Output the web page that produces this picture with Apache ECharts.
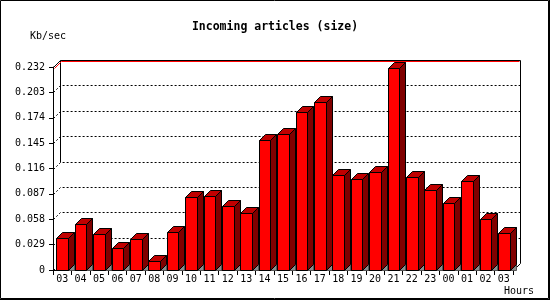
<!DOCTYPE html>
<html>
<head>
<meta charset="utf-8">
<script src="https://cdn.jsdelivr.net/npm/echarts@6/dist/echarts.min.js"></script>
<style>
html,body{margin:0;padding:0;background:#fff;}
#chart{width:550px;height:300px;}
</style>
</head>
<body>
<div id="chart"></div>
<script>
var hours = ['03','04','05','06','07','08','09','10','11','12','13','14','15','16','17','18','19','20','21','22','23','00','01','02','03'];
var sizeKbSec = [0.0364,0.0528,0.0410,0.0249,0.0352,0.0100,0.0436,0.0834,0.0845,0.0731,0.0654,0.1483,0.1557,0.1809,0.1923,0.1090,0.1040,0.1120,0.2312,0.1063,0.0914,0.0765,0.1017,0.0581,0.0421];
var yTickValues = [0,0.029,0.058,0.087,0.116,0.145,0.174,0.203,0.232];
var yTickLabels = ['0','0.029','0.058','0.087','0.116','0.145','0.174','0.203','0.232'];
var titleText = 'Incoming articles (size)';
var yName = 'Kb/sec';
var xName = 'Hours';

var FONT = "'DejaVu Sans Mono', monospace";
var D = 7;    // depth of plot box
var BD = 6;   // depth of bars

function renderFrame(params, api) {
  var cs = params.coordSys;
  var x0 = Math.round(cs.x) + 0.5, x1 = Math.round(cs.x + cs.width) + 0.5;
  var yt = Math.round(cs.y) + 0.5, yb = Math.round(cs.y + cs.height) + 0.5;
  var ch = [];
  var yMax = yTickValues[yTickValues.length - 1];
  yTickValues.forEach(function (v) {
    if (v === yMax) return;
    var y = Math.round(api.coord([0, v])[1]) + 0.5;
    var pts = v === 0 ? [[x0, y], [x0 + D, y - D]] : [[x0, y], [x0 + D, y - D], [x1 + D, y - D]];
    ch.push({type: 'polyline', shape: {points: pts},
      style: {stroke: '#000', lineWidth: 1, lineDash: [2, 2], fill: null}});
  });
  var ymid = Math.round((yt + yb) / 2 - D) + 0.5;
  ch.push({type: 'polyline', shape: {points: [[x0 + D, ymid], [x0 + D, yt - D]]},
    style: {stroke: '#000', lineWidth: 1, fill: null}});
  ch.push({type: 'polyline', shape: {points: [[x0 + 1, yt + 1], [x0 + D + 1, yt - D + 1], [x1 + D - 1, yt - D + 1]]},
    style: {stroke: '#ff0000', lineWidth: 1, fill: null}});
  ch.push({type: 'polyline', shape: {points: [[x0, yt], [x0 + D, yt - D], [x1 + D, yt - D], [x1 + D, yb - D], [x1, yb]]},
    style: {stroke: '#000', lineWidth: 1, fill: null}});
  return {type: 'group', children: ch};
}

function renderBar(params, api) {
  var i = api.value(0), v = api.value(1);
  var top = api.coord([i, v]);
  var base = api.coord([i, 0]);
  var bw = api.size([1, 0])[0];
  var hw = bw * 0.31;
  var L = Math.round(top[0] - hw) + 0.5, R = Math.round(top[0] + hw) + 0.5;
  var T = Math.round(top[1]) + 0.5, B = Math.round(base[1]) + 0.5;
  var st = function (fill) { return {fill: fill, stroke: '#000', lineWidth: 1}; };
  return {type: 'group', children: [
    {type: 'polygon', shape: {points: [[R, B], [R + BD, B - BD], [R + BD, B]]}, style: {fill: '#8c8c8c', stroke: '#555', lineWidth: 1}},
    {type: 'polygon', shape: {points: [[R, T], [R + BD, T - BD], [R + BD, B - BD], [R, B]]}, style: st('#800000')},
    {type: 'polygon', shape: {points: [[L, T], [L + BD, T - BD], [R + BD, T - BD], [R, T]]}, style: st('#c00000')},
    {type: 'rect', shape: {x: L, y: T, width: R - L, height: B - T}, style: st('#ff0000')}
  ]};
}

var chart = echarts.init(document.getElementById('chart'));
chart.setOption({
  animation: false,
  backgroundColor: '#fff',
  title: {text: titleText, left: 'center', top: 21, padding: 0,
    textStyle: {fontFamily: FONT, fontWeight: 'bold', fontSize: 11.5, color: '#000'}},
  grid: {left: 53, top: 67, width: 460, height: 203, containLabel: false},
  xAxis: {type: 'category', data: hours, boundaryGap: true,
    axisLine: {lineStyle: {color: '#000', width: 1}},
    axisTick: {show: true, length: 5, interval: 0, lineStyle: {color: '#000'}},
    axisLabel: {interval: 0, margin: 4, fontFamily: FONT, fontSize: 10, color: '#000'},
    splitLine: {show: false}},
  yAxis: {type: 'value', min: 0, max: 0.232, interval: 0.029,
    axisLine: {show: true, lineStyle: {color: '#000', width: 1}},
    axisTick: {show: true, length: 4, lineStyle: {color: '#000'}},
    axisLabel: {margin: 8, fontFamily: FONT, fontSize: 10, color: '#000',
      formatter: function (val, idx) { return yTickLabels[idx]; }},
    splitLine: {show: false}},
  graphic: [
    {type: 'rect', z: 100, shape: {x: 0.5, y: 0.5, width: 548, height: 298}, style: {fill: null, stroke: '#000', lineWidth: 1}},
    {type: 'line', z: 100, shape: {x1: 549.5, y1: 0, x2: 549.5, y2: 300}, style: {stroke: '#000', lineWidth: 1}},
    {type: 'line', z: 100, shape: {x1: 0, y1: 299.5, x2: 550, y2: 299.5}, style: {stroke: '#000', lineWidth: 1}},
    {type: 'text', left: 30, top: 31, style: {text: yName, font: '10px ' + FONT, fill: '#000'}},
    {type: 'text', left: 504, top: 286, style: {text: xName, font: '10px ' + FONT, fill: '#000'}}
  ],
  series: [
    {type: 'custom', renderItem: renderFrame, data: [[0, 0]], z: 1, silent: true, clip: false},
    {type: 'custom', renderItem: renderBar, z: 2, clip: false,
      data: sizeKbSec.map(function (v, i) { return [i, v]; })}
  ]
});
</script>
</body>
</html>
